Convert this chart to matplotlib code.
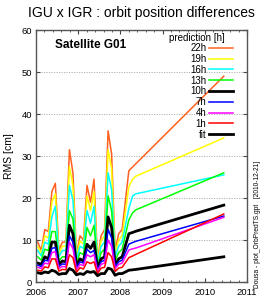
import matplotlib
matplotlib.use("Agg")
import matplotlib.pyplot as plt
from matplotlib.ticker import MultipleLocator

plt.rcParams["font.family"] = ["Liberation Sans", "DejaVu Sans"]

# monthly epochs Jan 2006 .. Jan 2008, then post-gap points
months = [2006 + (i + 0.5) / 12 for i in range(25)]
tail_t = [2008.20, 2008.29, 2008.37, 2010.45]
t = months + tail_t

h22 = [9.5, 7.5, 12.5, 12.0, 21.5, 23.5, 7.5, 9.5, 9.5, 31.5, 26.0, 6.5, 11.0, 10.0, 23.0, 19.0, 24.5, 5.0, 11.0, 12.5, 36.0, 30.5, 7.5, 11.5, 12.5,
       26.5, 27.4, 28.2, 49.0]
h19 = [8.5, 6.8, 11.0, 10.5, 19.0, 21.0, 6.8, 8.5, 8.5, 27.5, 23.0, 6.0, 9.8, 9.0, 20.5, 17.0, 21.5, 4.6, 9.8, 11.0, 31.5, 27.0, 6.8, 10.0, 11.0,
       22.7, 24.5, 25.2, 34.3]
h16 = [7.5, 6.2, 9.5, 9.0, 15.5, 18.0, 6.0, 7.5, 7.5, 23.0, 19.5, 5.3, 8.5, 8.0, 17.0, 14.0, 18.0, 4.2, 8.5, 9.5, 26.0, 22.0, 6.0, 8.5, 9.5,
       17.5, 20.5, 21.0, 25.5]
h13 = [6.0, 5.2, 7.8, 7.5, 12.0, 12.0, 5.0, 6.0, 6.0, 17.0, 15.0, 4.5, 7.0, 6.5, 13.0, 11.0, 13.5, 3.6, 7.0, 7.8, 20.5, 17.0, 5.0, 7.0, 7.8,
       14.8, 16.5, 17.2, 26.0]
h10 = [4.5, 4.2, 6.0, 5.5, 9.5, 9.5, 4.2, 5.0, 4.8, 13.5, 11.5, 3.8, 5.5, 5.0, 9.0, 8.0, 9.5, 3.2, 5.5, 6.0, 15.5, 13.0, 4.0, 5.5, 6.0,
       11.5, 11.8, 12.1, 18.3]
h7 = [4.0, 3.7, 5.2, 5.0, 8.0, 8.2, 3.7, 4.3, 4.2, 11.0, 9.5, 3.3, 4.8, 4.5, 7.8, 7.0, 7.5, 2.8, 4.8, 5.2, 12.5, 10.5, 3.6, 4.8, 5.2,
      9.0, 9.4, 9.7, 15.7]
h4 = [3.5, 3.2, 4.5, 4.3, 7.0, 7.2, 3.2, 3.7, 3.6, 9.5, 8.0, 2.9, 4.2, 3.9, 6.5, 6.0, 6.5, 2.5, 4.2, 4.5, 10.0, 8.5, 3.1, 4.2, 4.5,
      7.6, 7.9, 8.1, 15.4]
h1 = [2.8, 2.6, 3.6, 3.4, 5.5, 5.5, 2.6, 3.0, 2.9, 6.5, 5.8, 2.3, 3.4, 3.1, 4.8, 4.4, 4.8, 2.0, 3.3, 3.5, 7.0, 6.0, 2.5, 3.3, 3.5,
      5.8, 6.2, 6.6, 16.2]
fit = [2.2, 2.0, 2.4, 2.2, 2.8, 2.5, 1.8, 2.0, 2.0, 3.2, 2.8, 1.7, 2.0, 1.8, 2.5, 2.3, 2.5, 1.5, 2.0, 2.0, 3.3, 3.0, 1.6, 2.0, 2.0,
       2.8, 2.9, 3.0, 6.0]

labels = ["22h", "19h", "16h", "13h", "10h", "7h", "4h", "1h", "fit"]
series = [h22, h19, h16, h13, h10, h7, h4, h1, fit]
colors = ["#ff6020", "#ffff00", "#00ffff", "#00ff00", "#000000", "#0000ff", "#ff00ff", "#ff0000", "#000000"]
widths = [1.1, 1.1, 1.1, 1.1, 2.0, 1.1, 1.1, 1.1, 2.0]

fig = plt.figure(figsize=(2.64, 3.02), dpi=100)
ax = fig.add_axes([36 / 264, 20 / 302, 211 / 264, 252 / 302])

for s, c, w, lab in zip(series, colors, widths, labels):
    ax.plot(t, s, color=c, lw=w, label=lab)

ax.set_xlim(2006, 2011)
ax.set_ylim(0, 60)
ax.xaxis.set_minor_locator(MultipleLocator(0.2))
ax.yaxis.set_major_locator(MultipleLocator(10))
ax.set_xticks([2006, 2007, 2008, 2009, 2010, 2011])
ax.set_xticklabels(["2006", "2007", "2008", "2009", "2010", "2011"])
ax.tick_params(axis="both", which="both", direction="in", top=True, right=True, labelsize=6.8, color="#444444")
ax.tick_params(axis="x", pad=4)
ax.tick_params(axis="y", pad=3)
ax.tick_params(which="major", length=3)
ax.tick_params(which="minor", length=1.5)
ax.yaxis.grid(True, linestyle=(0, (1.5, 1.5)), color="#aaaaaa", lw=0.6)
for sp in ax.spines.values():
    sp.set_color("#555555")
    sp.set_linewidth(1.0)

ax.set_ylabel("RMS [cm]", fontsize=7.5, labelpad=5)
fig.text(0.535, 0.958, "IGU x IGR : orbit position differences", ha="center", va="center", fontsize=10)
ax.text(0.09, 0.94, "Satellite G01", transform=ax.transAxes, fontsize=8.5, fontweight="bold", va="center")

leg = ax.legend(loc="upper right", bbox_to_anchor=(0.945, 0.955), frameon=False, fontsize=7, markerfirst=False,
                handlelength=2.5, handletextpad=0.3,
                labelspacing=0.08, borderpad=0.1, borderaxespad=0.1)
ax.text(0.895, 0.968, "prediction [h]", transform=ax.transAxes, fontsize=7, ha="right", va="center")

fig.text(0.977, 0.258, "Dousa - plot_OrbPredTS.gpt   [2010-12-21]", rotation=90, fontsize=4.8, ha="center", va="center")

fig.savefig("out.png", dpi=100)
